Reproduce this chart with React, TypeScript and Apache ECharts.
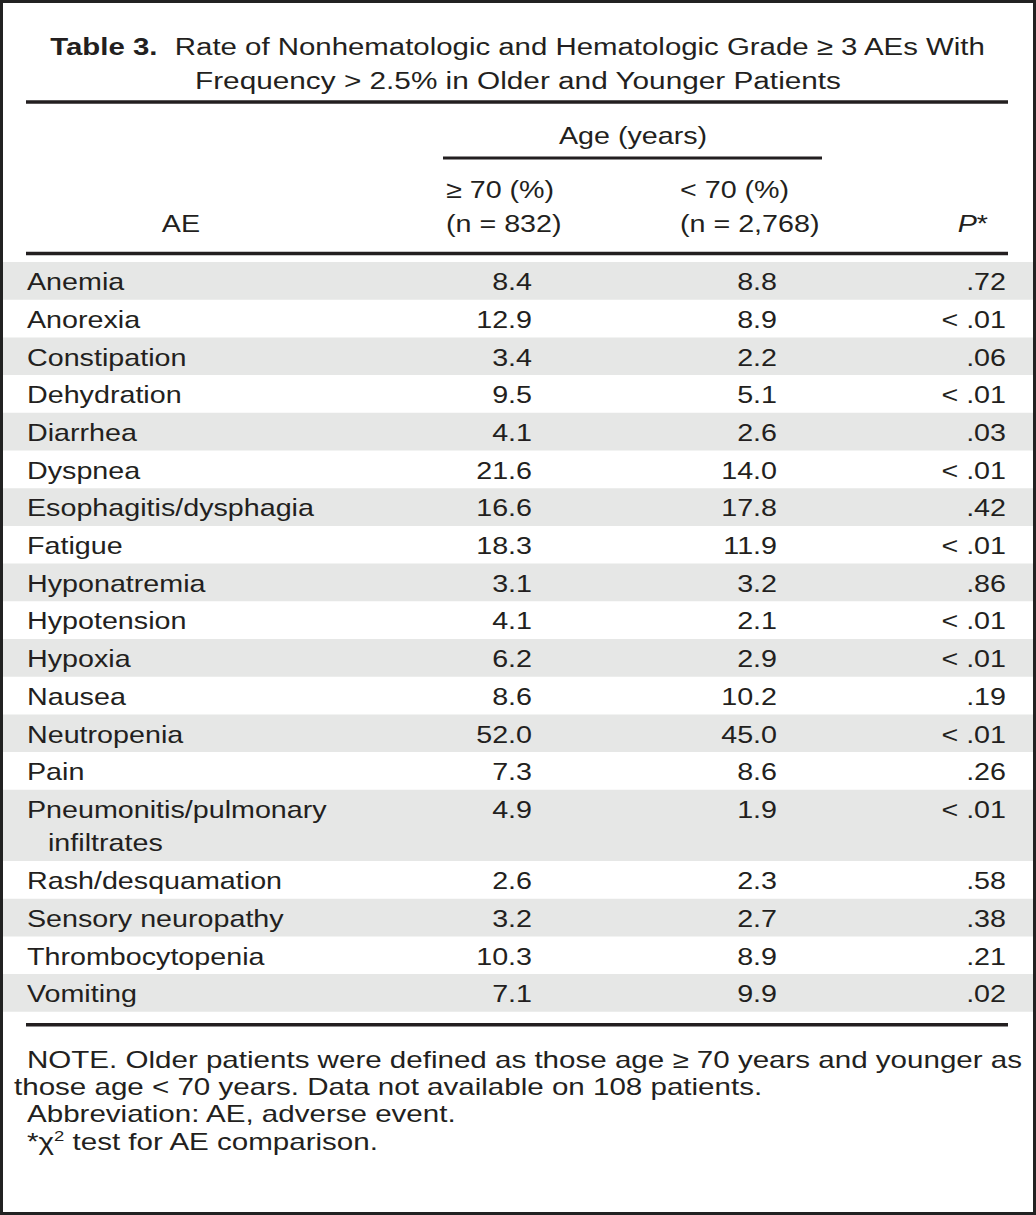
import React, { useEffect, useRef } from "react";
import * as echarts from "echarts";

const titleLine1Bold = "Table 3.";
const titleLine1Rest = "Rate of Nonhematologic and Hematologic Grade ≥ 3 AEs With";
const titleLine2 = "Frequency > 2.5% in Older and Younger Patients";
const spanHeader = "Age (years)";
const colHeaderAE = "AE";
const colHeaderOlder = ["≥ 70 (%)", "(n = 832)"];
const colHeaderYounger = ["< 70 (%)", "(n = 2,768)"];

const aeNames = [
  "Anemia", "Anorexia", "Constipation", "Dehydration", "Diarrhea", "Dyspnea",
  "Esophagitis/dysphagia", "Fatigue", "Hyponatremia", "Hypotension", "Hypoxia",
  "Nausea", "Neutropenia", "Pain", "Pneumonitis/pulmonary\ninfiltrates",
  "Rash/desquamation", "Sensory neuropathy", "Thrombocytopenia", "Vomiting",
];
const olderPct = [
  "8.4", "12.9", "3.4", "9.5", "4.1", "21.6", "16.6", "18.3", "3.1", "4.1", "6.2",
  "8.6", "52.0", "7.3", "4.9", "2.6", "3.2", "10.3", "7.1",
];
const youngerPct = [
  "8.8", "8.9", "2.2", "5.1", "2.6", "14.0", "17.8", "11.9", "3.2", "2.1", "2.9",
  "10.2", "45.0", "8.6", "1.9", "2.3", "2.7", "8.9", "9.9",
];
const pValues = [
  ".72", "< .01", ".06", "< .01", ".03", "< .01", ".42", "< .01", ".86", "< .01",
  "< .01", ".19", "< .01", ".26", "< .01", ".58", ".38", ".21", ".02",
];
const footnotes = [
  "NOTE. Older patients were defined as those age ≥ 70 years and younger as",
  "those age < 70 years. Data not available on 108 patients.",
  "Abbreviation: AE, adverse event.",
];
const footnoteChi = "test for AE comparison.";

const W = 1036;
const H = 1215;
const INK = "#231f20";
const SHADE = "#e6e7e6";
const FONT = '"Liberation Sans", Arial, Helvetica, sans-serif';
const FS = 24;
const SX = 1.195;

function txt(x: number, y: number, text: string, align: string = "left", extra: any = {}, sx: number = SX) {
  return {
    type: "text",
    x,
    y,
    scaleX: sx,
    silent: true,
    style: {
      text,
      x: 0,
      y: 0,
      fill: INK,
      fontFamily: FONT,
      fontSize: FS,
      fontWeight: "normal",
      align,
      verticalAlign: "middle",
      ...extra,
    },
  };
}

function hrule(x1: number, x2: number, y: number, w: number = 3.5) {
  return {
    type: "rect",
    silent: true,
    shape: { x: x1, y: y - w / 2, width: x2 - x1, height: w },
    style: { fill: INK },
  };
}

export default function App() {
  const ref = useRef<HTMLDivElement>(null);
  useEffect(() => {
    if (!ref.current) return;
    const chart = echarts.init(ref.current, null, { renderer: "svg", width: W, height: H });
    const els: any[] = [];

    els.push({ type: "rect", silent: true, shape: { x: 0, y: 0, width: W, height: H }, style: { fill: "#ffffff" } });

    // body rows
    const ROW_TOP0 = 262;
    const ROW_H = 37.7;
    const LINE2 = 33.5;
    let top = ROW_TOP0;
    aeNames.forEach((name, i) => {
      const lines = name.split("\n");
      const h = ROW_H + (lines.length - 1) * LINE2;
      if (i % 2 === 0) {
        els.push({ type: "rect", silent: true, shape: { x: 3, y: top, width: W - 6, height: h }, style: { fill: SHADE } });
      }
      const cy = top + 20;
      lines.forEach((ln, k) => {
        els.push(txt(k === 0 ? 27 : 48, cy + k * LINE2, ln, "left"));
      });
      els.push(txt(532, cy, olderPct[i], "right"));
      els.push(txt(777, cy, youngerPct[i], "right"));
      els.push(txt(1006, cy, pValues[i], "right"));
      top += h;
    });
    const tableBottom = top;

    // title
    els.push(
      txt(518, 47, `{b|${titleLine1Bold}}  ${titleLine1Rest}`, "center", {
        fontSize: 24.5,
        rich: { b: { fontWeight: "bold", fontFamily: FONT, fontSize: 24.5, fill: INK } },
      }, 1.2)
    );
    els.push(txt(518, 80, titleLine2, "center", { fontSize: 24.5 }, 1.215));
    els.push(hrule(26, 1008, 102));

    // header
    els.push(txt(633, 136, spanHeader, "center"));
    els.push(hrule(443, 822, 158, 3));
    els.push(txt(446, 190, colHeaderOlder[0], "left"));
    els.push(txt(446, 224, colHeaderOlder[1], "left"));
    els.push(txt(680, 190, colHeaderYounger[0], "left"));
    els.push(txt(680, 224, colHeaderYounger[1], "left"));
    els.push(txt(181, 224, colHeaderAE, "center"));
    els.push(
      txt(988, 224, "{i|P}*", "right", {
        rich: { i: { fontStyle: "italic", fontFamily: FONT, fontSize: FS, fill: INK } },
      })
    );
    els.push(hrule(26, 1008, 253.5));

    // bottom rule
    els.push(hrule(26, 1008, tableBottom + 13));

    // footnotes
    const FSX = 1.232;
    els.push(txt(27, 1060, footnotes[0], "left", {}, FSX));
    els.push(txt(14, 1087, footnotes[1], "left", {}, FSX));
    els.push(txt(27, 1114, footnotes[2], "left", {}, FSX));
    els.push(
      txt(27, 1142, `*χ{s|2} ${footnoteChi}`, "left", {
        rich: { s: { fontSize: 15, fontFamily: FONT, fill: INK, verticalAlign: "top", lineHeight: 26 } },
      }, FSX)
    );

    // frame
    els.push({ type: "rect", silent: true, shape: { x: 1.5, y: 1.5, width: W - 3, height: H - 3 }, style: { fill: "none", stroke: "#222222", lineWidth: 3 } });

    chart.setOption({ animation: false, graphic: { elements: els } });
    return () => chart.dispose();
  }, []);
  return (
    <div
      ref={ref}
      style={{ position: "absolute", left: 0, top: 0, width: W, height: H, background: "#fff" }}
    />
  );
}
